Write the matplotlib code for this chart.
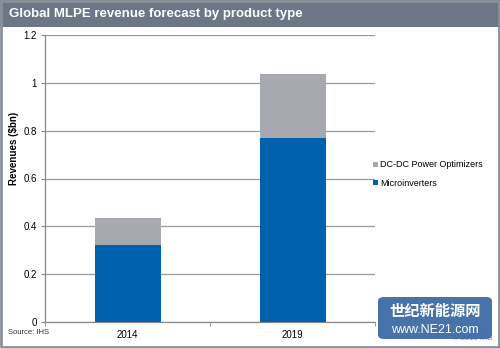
import matplotlib
matplotlib.use("Agg")
import matplotlib.pyplot as plt
from matplotlib.patches import Rectangle, FancyBboxPatch

plt.rcParams['font.family'] = ['Liberation Sans', 'Noto Sans CJK SC', 'DejaVu Sans']

categories = ["2014", "2019"]
microinverters = [0.32, 0.77]
dcdc_optimizers = [0.115, 0.267]
yticks = [0, 0.2, 0.4, 0.6, 0.8, 1, 1.2]
ytick_labels = ["0", "0.2", "0.4", "0.6", "0.8", "1", "1.2"]

BLUE = "#0062af"
GREY = "#a6aab0"

fig = plt.figure(figsize=(5.0, 3.48), dpi=100)
fig.patch.set_facecolor("white")
W, H = 500, 348

# outer frame
fig.patches.append(Rectangle((0.002, 0.003), 0.996, 0.994, transform=fig.transFigure,
                             fill=False, edgecolor="#8a9099", linewidth=2.0, zorder=10))
# title bar
fig.patches.append(Rectangle((0, 1 - 27 / H), 1, 27 / H, transform=fig.transFigure,
                             facecolor="#6c7686", edgecolor="none", zorder=-1))
fig.text(9 / W, 1 - 14 / H, "Global MLPE revenue forecast by product type",
         color="white", fontsize=9.5, fontweight="bold", va="center", ha="left")

ax = fig.add_axes([45 / W, 26 / H, 330 / W, 287 / H])
x = list(range(len(categories)))
ax.bar(x, microinverters, width=0.4, color=BLUE, label="Microinverters", zorder=3)
ax.bar(x, dcdc_optimizers, width=0.4, bottom=microinverters, color=GREY,
       label="DC-DC Power Optimizers", zorder=3)

ax.set_xlim(-0.5, len(categories) - 0.5)
ax.set_ylim(0, 1.2)
ax.set_yticks(yticks)
ax.set_yticklabels(ytick_labels)
ax.set_xticks(x)
ax.set_xticklabels(categories)
ax.tick_params(axis="x", length=0, labelsize=7, pad=6)
ax.set_xticks([-0.5, 0.5, 1.5], minor=True)
ax.tick_params(axis="x", which="minor", length=3, color="#888888", direction="out")
ax.tick_params(axis="y", length=3, labelsize=7, color="#888888", pad=3)
ax.grid(axis="y", color="#9a9a9a", linewidth=0.9, zorder=0)
for s in ["top", "right"]:
    ax.spines[s].set_visible(False)
for s in ["left", "bottom"]:
    ax.spines[s].set_color("#888888")
    ax.spines[s].set_linewidth(0.9)
fig.text(14 / W, 1 - 148 / H, "Revenues ($bn)", fontsize=7, fontweight="bold",
         rotation=90, ha="center", va="center")

handles, labels = ax.get_legend_handles_labels()
leg = fig.legend(handles[::-1], labels[::-1], loc="center left",
                 bbox_to_anchor=(370 / W, 1 - 174 / H), frameon=False, fontsize=6.5,
                 handlelength=0.55, handleheight=0.55, handletextpad=0.25,
                 labelspacing=1.0, borderaxespad=0, borderpad=0.3)

fig.text(8 / W, 1 - 333 / H, "Source: IHS", fontsize=5.5, color="#333333", va="center")
fig.text(492 / W, 1 - 338 / H, "© 2015 IHS", fontsize=5.5, color="#888888",
         va="center", ha="right")

# watermark badge
fig.patches.append(FancyBboxPatch((378 / W, 9 / H), 114 / W, 42 / H,
                                  boxstyle="round,pad=0,rounding_size=0.012",
                                  transform=fig.transFigure, facecolor="#3d6aa6",
                                  edgecolor="none", alpha=0.95, zorder=5))
fig.text(435 / W, 1 - 311 / H, "世纪新能源网", fontsize=11, color="white",
         fontweight="bold", ha="center", va="center", zorder=6,
         family=["Noto Sans CJK SC", "DejaVu Sans"])
fig.text(435 / W, 1 - 330 / H, "www.NE21.com", fontsize=9, color="white",
         ha="center", va="center", zorder=6)

fig.savefig("out.png", dpi=100)
